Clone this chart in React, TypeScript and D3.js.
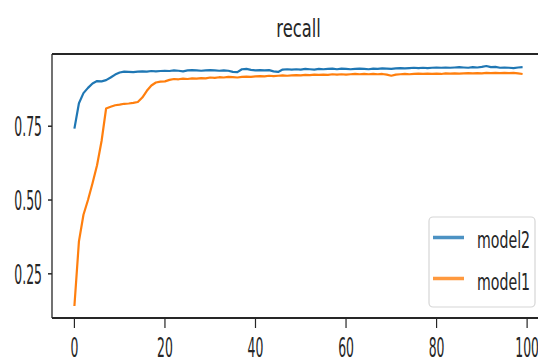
import React from "react";
import * as d3 from "d3";

// recall per epoch
const model2: number[] = [
  0.742, 0.828, 0.862, 0.880, 0.895, 0.903, 0.902, 0.906, 0.915, 0.925,
  0.932, 0.935, 0.934, 0.933, 0.935, 0.936, 0.935, 0.937, 0.936, 0.937,
  0.938, 0.937, 0.939, 0.938, 0.936, 0.939, 0.940, 0.939, 0.938, 0.939,
  0.940, 0.939, 0.938, 0.939, 0.938, 0.934, 0.933, 0.943, 0.944, 0.941,
  0.939, 0.940, 0.939, 0.940, 0.936, 0.934, 0.942, 0.943, 0.942, 0.943,
  0.942, 0.944, 0.943, 0.942, 0.944, 0.943, 0.944, 0.945, 0.943, 0.945,
  0.944, 0.943, 0.944, 0.945, 0.944, 0.943, 0.945, 0.944, 0.946, 0.945,
  0.944, 0.946, 0.947, 0.946, 0.947, 0.948, 0.947, 0.948, 0.947, 0.948,
  0.949, 0.948, 0.949, 0.948, 0.949, 0.950, 0.949, 0.948, 0.950, 0.949,
  0.951, 0.954, 0.950, 0.951, 0.948, 0.949, 0.948, 0.947, 0.949, 0.950,
];

const model1: number[] = [
  0.141, 0.360, 0.450, 0.500, 0.557, 0.618, 0.700, 0.810, 0.816, 0.821,
  0.823, 0.826, 0.827, 0.829, 0.832, 0.847, 0.870, 0.888, 0.898, 0.901,
  0.902, 0.907, 0.910, 0.909, 0.911, 0.910, 0.912, 0.911, 0.913, 0.912,
  0.915, 0.914, 0.916, 0.915, 0.917, 0.916, 0.915, 0.917, 0.918, 0.917,
  0.919, 0.920, 0.919, 0.921, 0.920, 0.921, 0.922, 0.921, 0.922, 0.923,
  0.922, 0.924, 0.923, 0.925, 0.924, 0.925, 0.924, 0.926, 0.925, 0.926,
  0.925, 0.926, 0.927, 0.926, 0.927, 0.926, 0.927, 0.926, 0.927, 0.925,
  0.921, 0.925, 0.926, 0.927, 0.926, 0.927, 0.928, 0.927, 0.928, 0.927,
  0.928, 0.927, 0.929, 0.928, 0.929, 0.928, 0.929, 0.930, 0.929, 0.930,
  0.929, 0.931, 0.930, 0.931, 0.930, 0.931, 0.930, 0.931, 0.929, 0.927,
];

const xTicks = [0, 20, 40, 60, 80, 100];
const yTicks = [0.25, 0.5, 0.75];
const seriesNames = ["model2", "model1"];
const colors = ["#1f77b4", "#ff7f0e"];

const W = 538, H = 363;
const margin = { top: 54, right: -7, bottom: 45, left: 52 };
const FONT = "DejaVu Sans, sans-serif";
const INK = "#262626";

// matplotlib-ish squashed text (picture was resampled unevenly)
function SText(props: { x: number; y: number; size: number; sx: number; anchor?: string; children: any }) {
  const { x, y, size, sx, anchor = "start", children } = props;
  return (
    <g transform={`translate(${x},${y}) scale(${sx},1)`}>
      <text fontFamily={FONT} fontSize={size} fill={INK} textAnchor={anchor}>{children}</text>
    </g>
  );
}

export default function App() {
  const x0 = margin.left, x1 = W - margin.right;
  const y0 = margin.top, y1 = H - margin.bottom;

  const n = model2.length;
  const xPad = (n - 1) * 0.05;
  const xScale = d3.scaleLinear().domain([-xPad, n - 1 + xPad]).range([x0, x1]);

  const all = model1.concat(model2);
  const lo = d3.min(all)!, hi = d3.max(all)!;
  const yPad = (hi - lo) * 0.05;
  const yScale = d3.scaleLinear().domain([lo - yPad, hi + yPad]).range([y1, y0]);

  const line = d3.line<number>().x((_, i) => xScale(i)).y((d) => yScale(d));
  const data = [model2, model1];

  return (
    <svg width={W} height={H} style={{ position: "absolute", left: 0, top: 0, background: "#fff" }}>
      <SText x={(x0 + x1) / 2} y={37} size={24} sx={0.68} anchor="middle">recall</SText>

      {data.map((d, i) => (
        <path key={i} d={line(d) || ""} fill="none" stroke={colors[i]} strokeWidth={2.2} strokeLinejoin="round" />
      ))}

      {/* spines */}
      <line x1={x0} x2={x0} y1={y0} y2={y1} stroke={INK} strokeWidth={1.3} />
      <line x1={x0} x2={x1} y1={y0} y2={y0} stroke={INK} strokeWidth={1.8} />
      <line x1={x0} x2={x1} y1={y1} y2={y1} stroke={INK} strokeWidth={1.8} />
      <line x1={x1} x2={x1} y1={y0} y2={y1} stroke={INK} strokeWidth={1.3} />

      {yTicks.map((t) => (
        <g key={t}>
          <line x1={x0 - 4} x2={x0} y1={yScale(t)} y2={yScale(t)} stroke={INK} strokeWidth={1.5} />
          <SText x={x0 - 10} y={yScale(t) + 10} size={27} sx={0.46} anchor="end">{t.toFixed(2)}</SText>
        </g>
      ))}

      {xTicks.map((t) => (
        <g key={t}>
          <line x1={xScale(t)} x2={xScale(t)} y1={y1} y2={y1 + 10} stroke={INK} strokeWidth={1.2} />
          <SText x={xScale(t)} y={357} size={27} sx={0.46} anchor="middle">{t}</SText>
        </g>
      ))}

      {/* legend */}
      <g>
        <rect x={429} y={217} width={106} height={90} rx={4} fill="#fff" fillOpacity={0.8} stroke="#d6d6d6" strokeWidth={1.2} />
        {seriesNames.map((s, i) => (
          <g key={s}>
            <line x1={433} x2={464} y1={237.5 + i * 41} y2={237.5 + i * 41} stroke={colors[i]} strokeWidth={3.5} strokeOpacity={0.8} />
            <SText x={477} y={248 + i * 42} size={22.5} sx={0.63}>{s}</SText>
          </g>
        ))}
      </g>
    </svg>
  );
}
